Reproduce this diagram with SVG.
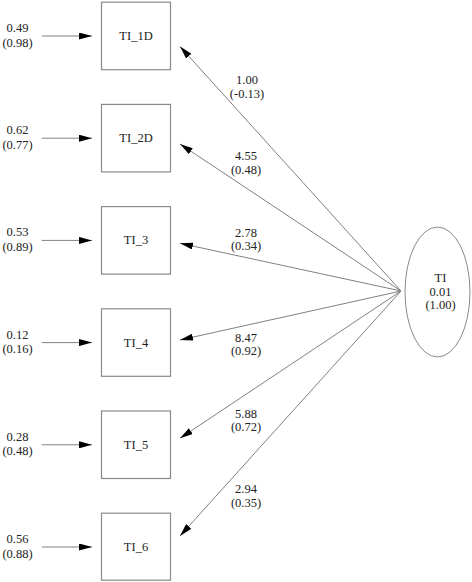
<svg xmlns="http://www.w3.org/2000/svg" width="472" height="582" viewBox="0 0 472 582">
<style>
text { font-family: "Liberation Serif", "Times New Roman", serif; font-size: 12.5px; fill: #222; text-anchor: middle; }
.box { fill: #fff; stroke: #8a8a8a; stroke-width: 1.2; }
.lat { fill: #fff; stroke: #8a8a8a; stroke-width: 1; }
.edge { stroke: #808080; stroke-width: 1; fill: none; marker-end: url(#ah); }
</style>
<defs>
<marker id="ah" viewBox="0 0 13 7" refX="13" refY="3.5" markerWidth="13" markerHeight="7" markerUnits="userSpaceOnUse" orient="auto">
<path d="M0,0 L13,3.5 L0,7 Z" fill="#000"/>
</marker>
</defs>
<rect width="472" height="582" fill="#fff"/>
<g id="connectors">
<line class="edge" x1="41.7" y1="36" x2="92" y2="36"/>
<line class="edge" x1="41.7" y1="138.2" x2="92" y2="138.2"/>
<line class="edge" x1="41.7" y1="240.4" x2="92" y2="240.4"/>
<line class="edge" x1="41.7" y1="342.6" x2="92" y2="342.6"/>
<line class="edge" x1="41.7" y1="444.8" x2="92" y2="444.8"/>
<line class="edge" x1="41.7" y1="547" x2="92" y2="547"/>
<line class="edge" x1="401" y1="291" x2="180" y2="46.5"/>
<line class="edge" x1="401" y1="291" x2="180" y2="144"/>
<line class="edge" x1="401" y1="291" x2="180" y2="243.3"/>
<line class="edge" x1="401" y1="291" x2="180" y2="340"/>
<line class="edge" x1="401" y1="291" x2="180" y2="438.3"/>
<line class="edge" x1="401" y1="291" x2="180" y2="536"/>
<text x="17.5" y="32">0.49</text><text x="17.5" y="46.5">(0.98)</text>
<text x="17.5" y="134.2">0.62</text><text x="17.5" y="148.7">(0.77)</text>
<text x="17.5" y="236.4">0.53</text><text x="17.5" y="250.9">(0.89)</text>
<text x="17.5" y="338.6">0.12</text><text x="17.5" y="353.1">(0.16)</text>
<text x="17.5" y="440.8">0.28</text><text x="17.5" y="455.3">(0.48)</text>
<text x="17.5" y="543">0.56</text><text x="17.5" y="557.5">(0.88)</text>
<text x="247" y="84">1.00</text><text x="247" y="98">(-0.13)</text>
<text x="246" y="160">4.55</text><text x="246" y="173.5">(0.48)</text>
<text x="246" y="236.5">2.78</text><text x="246" y="250">(0.34)</text>
<text x="246" y="341.5">8.47</text><text x="246" y="355">(0.92)</text>
<text x="246" y="417.5">5.88</text><text x="246" y="431">(0.72)</text>
<text x="246" y="493">2.94</text><text x="246" y="506.5">(0.35)</text>
</g>
<g id="TI_1D"><rect class="box" x="101.5" y="2.2" width="69" height="67.5"/><text x="136" y="40">TI_1D</text></g>
<g id="TI_2D"><rect class="box" x="101.5" y="104.4" width="69" height="67.5"/><text x="136" y="142.2">TI_2D</text></g>
<g id="TI_3"><rect class="box" x="101.5" y="206.6" width="69" height="67.5"/><text x="136" y="244.4">TI_3</text></g>
<g id="TI_4"><rect class="box" x="101.5" y="308.8" width="69" height="67.5"/><text x="136" y="346.6">TI_4</text></g>
<g id="TI_5"><rect class="box" x="101.5" y="411" width="69" height="67.5"/><text x="136" y="448.8">TI_5</text></g>
<g id="TI_6"><rect class="box" x="101.5" y="513.2" width="69" height="67"/><text x="136" y="551">TI_6</text></g>
<g id="TI"><ellipse class="lat" cx="437.5" cy="292" rx="32.5" ry="65"/><text x="440.5" y="282">TI</text><text x="440.5" y="295.5">0.01</text><text x="440.5" y="309">(1.00)</text></g>
</svg>
